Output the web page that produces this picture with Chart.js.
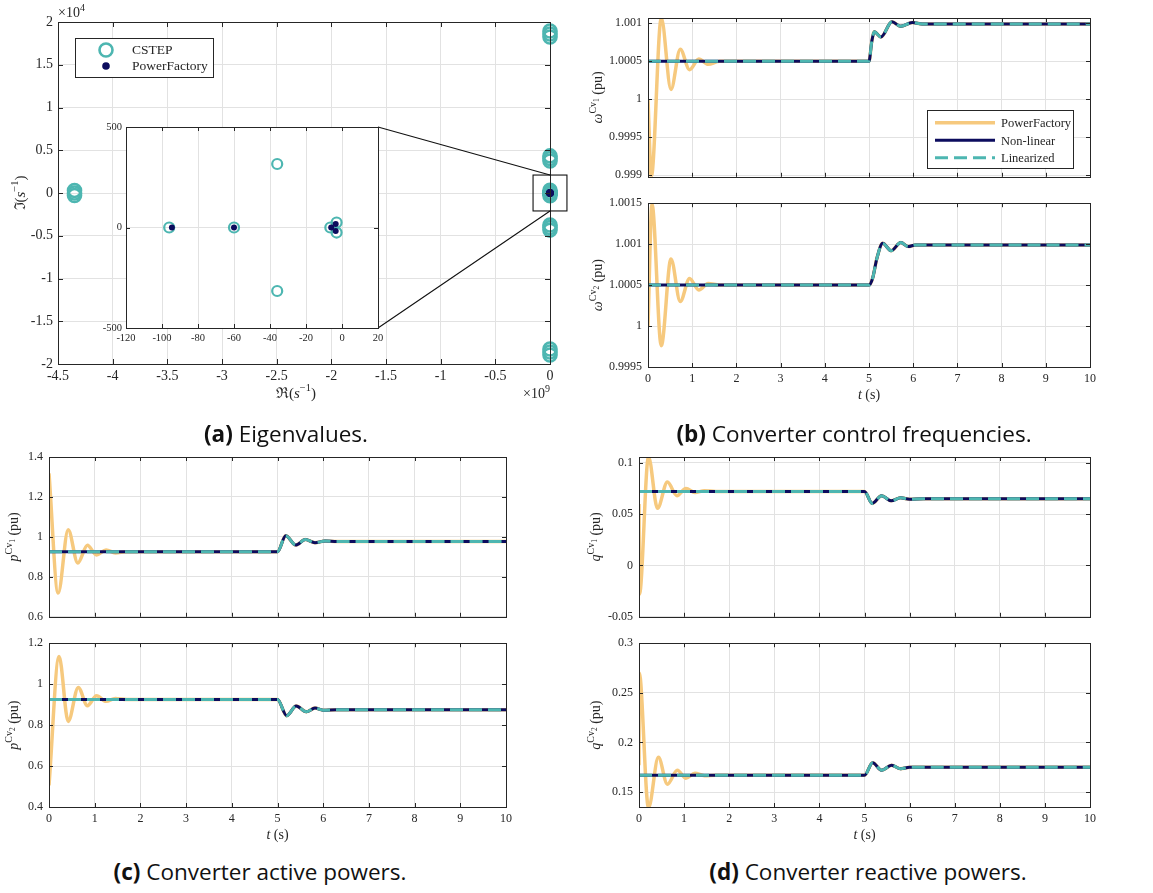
<!DOCTYPE html>
<html>
<head>
<meta charset="utf-8">
<script src="https://cdn.jsdelivr.net/npm/chart.js@4.4.1/dist/chart.umd.min.js"></script>
<style>
  body { margin: 0; background: #fff; }
  #fig { position: relative; width: 1153px; height: 893px; overflow: hidden; }
  canvas { position: absolute; }
  .cap { position: absolute; height: 30px; line-height: 30px; text-align: center; font-family: "Open Sans", sans-serif; font-size: 22.5px; color: #111; white-space: nowrap; }
  .cap b { font-weight: 700; }
</style>
</head>
<body>
<div id="fig">
  <canvas id="cA" width="580" height="420" style="left:0;top:0"></canvas>
  <canvas id="cIn" width="300" height="240" style="left:90px;top:115px"></canvas>
  <canvas id="cB1" width="573" height="190" style="left:580px;top:0"></canvas>
  <canvas id="cB2" width="573" height="230" style="left:580px;top:190px"></canvas>
  <canvas id="cC1" width="580" height="190" style="left:0;top:440px"></canvas>
  <canvas id="cC2" width="580" height="220" style="left:0;top:630px"></canvas>
  <canvas id="cD1" width="573" height="190" style="left:580px;top:440px"></canvas>
  <canvas id="cD2" width="573" height="220" style="left:580px;top:630px"></canvas>
  <div class="cap" style="left:136px;width:300px;top:419px"><b>(a)</b> Eigenvalues.</div>
  <div class="cap" style="left:654px;width:400px;top:419px"><b>(b)</b> Converter control frequencies.</div>
  <div class="cap" style="left:60px;width:400px;top:857px"><b>(c)</b> Converter active powers.</div>
  <div class="cap" style="left:668px;width:400px;top:857px"><b>(d)</b> Converter reactive powers.</div>
</div>
<script>
// ---- (a) eigenvalues (real part in s^-1, imaginary part in s^-1)
const cstepRe = [-4.349e9, -4.349e9, -4.349e9, 0, 0, 0, 0, 0, 0, 0, 0, 0, 0, 0, 0, -96, -60, -36, -36, -6.5, -3, -3];
const cstepIm = [300, 0, -300, 18950, 18600, 18250, 4340, 4040, 3740, -3740, -4040, -4340, -18250, -18600, -18950, 0, 0, 316, -316, 0, 25, -25];
const pfRe = [-94.5, -60, -6, -3.5, -3.5];
const pfIm = [0, 0, 0, 18, -18];
const aTicksX = [-4.5e9, -4e9, -3.5e9, -3e9, -2.5e9, -2e9, -1.5e9, -1e9, -0.5e9, 0];
const aTicksY = [-2e4, -1.5e4, -1e4, -0.5e4, 0, 0.5e4, 1e4, 1.5e4, 2e4];
const insetTicksX = [-120, -100, -80, -60, -40, -20, 0, 20];
const insetTicksY = [-500, 0, 500];

// ---- time series: PowerFactory start-up transient + common step response
const timeTicks = [0, 1, 2, 3, 4, 5, 6, 7, 8, 9, 10];

const b1PfT = [0, 0.075, 0.30, 0.52, 0.73, 0.94, 1.15, 1.36, 1.62];
const b1PfY = [1.0, 0.99898, 1.00107, 1.00013, 1.00066, 1.00039, 1.00053, 1.00046, 1.0005];
const b1T = [0, 5.0, 5.06, 5.12, 5.27, 5.52, 5.72, 5.98, 6.2, 10];
const b1Y = [1.0005, 1.0005, 1.00075, 1.00089, 1.00082, 1.00102, 1.00096, 1.00101, 1.00099, 1.00099];

const b2PfT = [0, 0.09, 0.30, 0.52, 0.73, 0.94, 1.15, 1.36, 1.62];
const b2PfY = [1.0, 1.00149, 0.99976, 1.00082, 1.0003, 1.00058, 1.00044, 1.00052, 1.0005];
const b2T = [0, 5.0, 5.08, 5.18, 5.31, 5.5, 5.72, 5.89, 6.05, 10];
const b2Y = [1.0005, 1.0005, 1.00058, 1.00083, 1.00101, 1.00092, 1.00102, 1.00097, 1.00099, 1.00099];

const c1PfT = [0, 0.20, 0.42, 0.63, 0.84, 1.04, 1.25, 1.45, 1.7];
const c1PfY = [1.318, 0.719, 1.036, 0.869, 0.958, 0.91, 0.935, 0.92, 0.926];
const c1T = [0, 5.0, 5.18, 5.40, 5.61, 5.82, 6.04, 6.3, 10];
const c1Y = [0.926, 0.926, 1.006, 0.959, 0.987, 0.971, 0.979, 0.977, 0.977];

const c2PfT = [0, 0.22, 0.42, 0.64, 0.84, 1.04, 1.25, 1.45, 1.7];
const c2PfY = [0.506, 1.135, 0.818, 0.984, 0.895, 0.943, 0.916, 0.93, 0.925];
const c2T = [0, 5.0, 5.20, 5.41, 5.63, 5.82, 6.0, 6.3, 10];
const c2Y = [0.925, 0.925, 0.846, 0.893, 0.865, 0.883, 0.873, 0.875, 0.875];

const d1PfT = [0, 0.01, 0.21, 0.41, 0.63, 0.84, 1.04, 1.24, 1.45, 1.7];
const d1PfY = [0.06, -0.028, 0.106, 0.0557, 0.0813, 0.068, 0.075, 0.071, 0.0728, 0.0722];
const d1T = [0, 5.0, 5.17, 5.38, 5.59, 5.80, 6.0, 6.3, 10];
const d1Y = [0.0722, 0.0722, 0.0605, 0.068, 0.063, 0.066, 0.0645, 0.0649, 0.0649];

const d2PfT = [0, 0.005, 0.21, 0.43, 0.63, 0.85, 1.04, 1.24, 1.45, 1.7];
const d2PfY = [0.177, 0.27, 0.1342, 0.185, 0.158, 0.172, 0.164, 0.169, 0.1665, 0.167];
const d2T = [0, 5.0, 5.18, 5.38, 5.6, 5.80, 6.0, 6.3, 10];
const d2Y = [0.167, 0.167, 0.1796, 0.172, 0.177, 0.1735, 0.175, 0.175, 0.175];

const SERIF = '"Liberation Serif", "DejaVu Serif", serif';
const AXIS = "#262626";
const GRID = "#e2e2e2";
const TEAL = "#4db6b1";
const NAVY = "#0c0c5e";
const GOLD = "#f6c97e";

function fontOf(p) {
  return (p.i ? "italic " : "") + p.s + "px " + (p.ff || SERIF);
}

// draws a run of text pieces (for superscripts etc), optionally rotated
function drawRich(ctx, parts, x, y, align, rotate) {
  ctx.save();
  ctx.translate(x, y);
  if (rotate) ctx.rotate(-Math.PI / 2);
  ctx.fillStyle = AXIS;
  ctx.textAlign = "left";
  ctx.textBaseline = "alphabetic";
  const widths = parts.map((p) => {
    ctx.font = fontOf(p);
    return ctx.measureText(p.t).width;
  });
  const total = widths.reduce((a, b) => a + b, 0);
  let cx = align === "left" ? 0 : align === "right" ? -total : -total / 2;
  parts.forEach((p, i) => {
    ctx.font = fontOf(p);
    ctx.fillText(p.t, cx, p.dy || 0);
    cx += widths[i];
  });
  ctx.restore();
}

function fmt(v) {
  return String(+v.toFixed(6));
}

// MATLAB-like box: frame, inward ticks on all sides, axis labels
function makeAxes(cfg) {
  return {
    id: "matlabAxes",
    beforeDraw(chart) {
      if (!cfg.fill) return;
      const a = chart.chartArea;
      chart.ctx.save();
      chart.ctx.fillStyle = "#fff";
      chart.ctx.fillRect(a.left, a.top, a.right - a.left, a.bottom - a.top);
      chart.ctx.restore();
    },
    afterDraw(chart) {
      const { ctx, chartArea: a, scales } = chart;
      const x = scales.x;
      const y = scales.y;
      const tl = cfg.tick || 4;
      ctx.save();
      ctx.strokeStyle = AXIS;
      ctx.lineWidth = 1;
      ctx.beginPath();
      x.ticks.forEach((t) => {
        const px = Math.round(x.getPixelForValue(t.value)) + 0.5;
        ctx.moveTo(px, a.bottom);
        ctx.lineTo(px, a.bottom - tl);
        ctx.moveTo(px, a.top);
        ctx.lineTo(px, a.top + tl);
      });
      y.ticks.forEach((t) => {
        const py = Math.round(y.getPixelForValue(t.value)) + 0.5;
        ctx.moveTo(a.left, py);
        ctx.lineTo(a.left + tl, py);
        ctx.moveTo(a.right, py);
        ctx.lineTo(a.right - tl, py);
      });
      ctx.stroke();
      ctx.strokeRect(Math.round(a.left) + 0.5, Math.round(a.top) + 0.5, Math.round(a.right - a.left), Math.round(a.bottom - a.top));
      if (cfg.ylabel) drawRich(ctx, cfg.ylabel, cfg.ylabelX, (a.top + a.bottom) / 2, "center", true);
      if (cfg.xlabel) drawRich(ctx, cfg.xlabel, cfg.xlabelX || (a.left + a.right) / 2, a.bottom + cfg.xlabelDy, "center", false);
      if (cfg.extra) cfg.extra(chart, ctx);
      ctx.restore();
    }
  };
}

function pts(xs, ys) {
  return xs.map((v, i) => ({ x: v, y: ys[i] }));
}

function yLabel(sym, idx) {
  return [
    { t: sym, s: 14, i: true },
    { t: "Cv", s: 10, dy: -6 },
    { t: String(idx), s: 7.5, dy: -3 },
    { t: " (pu)", s: 14 }
  ];
}

const tLabel = [{ t: "t", s: 14, i: true }, { t: " (s)", s: 14 }];

function timeChart(id, o) {
  const nl = pts(o.t, o.y);
  const pf = pts(o.pfT, o.pfY).concat(nl.filter((p) => p.x >= 2));
  const tickFont = { family: SERIF, size: 12 };
  return new Chart(document.getElementById(id), {
    type: "line",
    data: {
      datasets: [
        { label: "Linearized", data: nl, borderColor: TEAL, borderWidth: 3, borderDash: [13, 6], order: 0 },
        { label: "Non-linear", data: nl, borderColor: NAVY, borderWidth: 3, order: 1 },
        { label: "PowerFactory", data: pf, borderColor: GOLD, borderWidth: 3.5, order: 2 }
      ]
    },
    options: {
      responsive: false,
      animation: false,
      events: [],
      devicePixelRatio: 1,
      layout: { padding: { top: o.padTop, right: o.padRight, left: 0, bottom: 0 } },
      elements: {
        point: { radius: 0 },
        line: { cubicInterpolationMode: "monotone", borderCapStyle: "butt" }
      },
      plugins: { legend: { display: false }, tooltip: { enabled: false } },
      scales: {
        x: {
          type: "linear",
          min: 0,
          max: 10,
          afterBuildTicks: (s) => { s.ticks = timeTicks.map((v) => ({ value: v })); },
          afterFit: (s) => { s.height = o.xH; },
          grid: { color: GRID, drawTicks: false },
          border: { display: false },
          ticks: { display: o.showX, padding: 5, font: tickFont, color: AXIS, maxRotation: 0, autoSkip: false, callback: fmt }
        },
        y: {
          type: "linear",
          min: o.yMin,
          max: o.yMax,
          afterBuildTicks: (s) => { s.ticks = o.yTicks.map((v) => ({ value: v })); },
          afterFit: (s) => { s.width = o.yW; },
          grid: { color: GRID, drawTicks: false },
          border: { display: false },
          ticks: { padding: 6, font: tickFont, color: AXIS, autoSkip: false, callback: fmt }
        }
      }
    },
    plugins: [makeAxes({
      tick: 4,
      ylabel: o.ylabel,
      ylabelX: o.ylabelX,
      xlabel: o.showX ? tLabel : null,
      xlabelDy: 32,
      extra: o.extra
    })]
  });
}

// legend box of panel (b), top plot
function lineLegend(chart, ctx) {
  const a = chart.chartArea;
  const bx = a.right - 163;
  const by = a.bottom - 67;
  ctx.fillStyle = "#fff";
  ctx.fillRect(bx, by, 146, 58);
  ctx.strokeStyle = AXIS;
  ctx.lineWidth = 1;
  ctx.strokeRect(Math.round(bx) + 0.5, Math.round(by) + 0.5, 146, 58);
  const rows = [
    { name: "PowerFactory", color: GOLD, w: 3.5, dash: [] },
    { name: "Non-linear", color: NAVY, w: 3, dash: [] },
    { name: "Linearized", color: TEAL, w: 3, dash: [13, 6] }
  ];
  rows.forEach((r, i) => {
    const ry = by + 13 + i * 17.5;
    ctx.save();
    ctx.strokeStyle = r.color;
    ctx.lineWidth = r.w;
    ctx.setLineDash(r.dash);
    ctx.beginPath();
    ctx.moveTo(bx + 8, ry);
    ctx.lineTo(bx + 68, ry);
    ctx.stroke();
    ctx.restore();
    ctx.fillStyle = AXIS;
    ctx.font = "12.5px " + SERIF;
    ctx.textBaseline = "middle";
    ctx.fillText(r.name, bx + 74, ry + 1);
  });
}

// ---- (a) inset
const insetChart = new Chart(document.getElementById("cIn"), {
  type: "scatter",
  data: {
    datasets: [
      { label: "CSTEP", data: pts(cstepRe, cstepIm), pointRadius: 5, pointBorderWidth: 2.2, borderColor: TEAL, backgroundColor: "rgba(0,0,0,0)", order: 1 },
      { label: "PowerFactory", data: pts(pfRe, pfIm), pointRadius: 3, pointBorderWidth: 0, borderColor: NAVY, backgroundColor: NAVY, order: 0 }
    ]
  },
  options: {
    responsive: false,
    animation: false,
    events: [],
    devicePixelRatio: 1,
    layout: { padding: { top: 12, right: 12, left: 0, bottom: 0 } },
    plugins: { legend: { display: false }, tooltip: { enabled: false } },
    scales: {
      x: {
        type: "linear", min: -120, max: 20,
        afterBuildTicks: (s) => { s.ticks = insetTicksX.map((v) => ({ value: v })); },
        afterFit: (s) => { s.height = 27; },
        grid: { color: GRID, drawTicks: false },
        border: { display: false },
        ticks: { padding: 4, font: { family: SERIF, size: 10.5 }, color: AXIS, maxRotation: 0, autoSkip: false, callback: fmt }
      },
      y: {
        type: "linear", min: -500, max: 500,
        afterBuildTicks: (s) => { s.ticks = insetTicksY.map((v) => ({ value: v })); },
        afterFit: (s) => { s.width = 36; },
        grid: { color: GRID, drawTicks: false },
        border: { display: false },
        ticks: { padding: 4, font: { family: SERIF, size: 10.5 }, color: AXIS, autoSkip: false, callback: fmt }
      }
    }
  },
  plugins: [makeAxes({ tick: 4, fill: true })]
});

// ---- (a) main eigenvalue map
const INSET_LEFT = 90;
const INSET_TOP = 115;
const ZOOM_RE = 0.155e9;
const ZOOM_IM = 2100;

new Chart(document.getElementById("cA"), {
  type: "scatter",
  data: {
    datasets: [
      { label: "CSTEP", data: pts(cstepRe, cstepIm), pointRadius: 6.5, pointBorderWidth: 2.6, borderColor: TEAL, backgroundColor: "rgba(0,0,0,0)", order: 1, clip: false },
      { label: "PowerFactory", data: pts(pfRe, pfIm), pointRadius: 3.8, pointBorderWidth: 0, borderColor: NAVY, backgroundColor: NAVY, order: 0, clip: false }
    ]
  },
  options: {
    responsive: false,
    animation: false,
    events: [],
    devicePixelRatio: 1,
    layout: { padding: { top: 22, right: 30, left: 0, bottom: 0 } },
    plugins: { legend: { display: false }, tooltip: { enabled: false } },
    scales: {
      x: {
        type: "linear", min: -4.5e9, max: 0,
        afterBuildTicks: (s) => { s.ticks = aTicksX.map((v) => ({ value: v })); },
        afterFit: (s) => { s.height = 56; },
        grid: { color: GRID, drawTicks: false },
        border: { display: false },
        ticks: { padding: 4, font: { family: SERIF, size: 14 }, color: AXIS, maxRotation: 0, autoSkip: false, callback: (v) => fmt(v / 1e9) }
      },
      y: {
        type: "linear", min: -2e4, max: 2e4,
        afterBuildTicks: (s) => { s.ticks = aTicksY.map((v) => ({ value: v })); },
        afterFit: (s) => { s.width = 58; },
        grid: { color: GRID, drawTicks: false },
        border: { display: false },
        ticks: { padding: 5, font: { family: SERIF, size: 14 }, color: AXIS, autoSkip: false, callback: (v) => fmt(v / 1e4) }
      }
    }
  },
  plugins: [makeAxes({
    tick: 5,
    ylabel: [{ t: "ℑ(", s: 15 }, { t: "s", s: 15, i: true }, { t: "−1", s: 10.5, dy: -7 }, { t: ")", s: 15 }],
    ylabelX: 25,
    xlabel: [{ t: "ℜ(", s: 15 }, { t: "s", s: 15, i: true }, { t: "−1", s: 10.5, dy: -7 }, { t: ")", s: 15 }],
    xlabelX: 296,
    xlabelDy: 34,
    extra: (chart, ctx) => {
      const a = chart.chartArea;
      const x = chart.scales.x;
      const y = chart.scales.y;
      drawRich(ctx, [{ t: "×10", s: 14 }, { t: "4", s: 10, dy: -6 }], a.left, a.top - 5, "left", false);
      drawRich(ctx, [{ t: "×10", s: 14 }, { t: "9", s: 10, dy: -6 }], a.right, a.bottom + 34, "right", false);
      // zoom box around the origin and connectors to the inset
      const zx0 = x.getPixelForValue(-ZOOM_RE);
      const zx1 = x.getPixelForValue(ZOOM_RE);
      const zy0 = y.getPixelForValue(ZOOM_IM);
      const zy1 = y.getPixelForValue(-ZOOM_IM);
      const ox = x.getPixelForValue(0);
      const ia = insetChart.chartArea;
      ctx.strokeStyle = "#111";
      ctx.lineWidth = 1.1;
      ctx.strokeRect(zx0, zy0, zx1 - zx0, zy1 - zy0);
      ctx.beginPath();
      ctx.moveTo(INSET_LEFT + ia.right, INSET_TOP + ia.top);
      ctx.lineTo(ox, zy0);
      ctx.moveTo(INSET_LEFT + ia.right, INSET_TOP + ia.bottom);
      ctx.lineTo(ox, zy1);
      ctx.stroke();
      // legend
      const lx = a.left + 17;
      const ly = a.top + 16;
      ctx.fillStyle = "#fff";
      ctx.fillRect(lx, ly, 138, 39);
      ctx.strokeStyle = AXIS;
      ctx.lineWidth = 1;
      ctx.strokeRect(Math.round(lx) + 0.5, Math.round(ly) + 0.5, 138, 39);
      ctx.strokeStyle = TEAL;
      ctx.lineWidth = 2.6;
      ctx.beginPath();
      ctx.arc(lx + 31, ly + 12, 6.5, 0, Math.PI * 2);
      ctx.stroke();
      ctx.fillStyle = NAVY;
      ctx.beginPath();
      ctx.arc(lx + 31, ly + 28, 3.8, 0, Math.PI * 2);
      ctx.fill();
      ctx.fillStyle = AXIS;
      ctx.font = "13.5px " + SERIF;
      ctx.textBaseline = "middle";
      ctx.fillText("CSTEP", lx + 57, ly + 12);
      ctx.fillText("PowerFactory", lx + 57, ly + 28);
    }
  })]
});

// ---- (b) frequencies
timeChart("cB1", {
  t: b1T, y: b1Y, pfT: b1PfT, pfY: b1PfY,
  yMin: 0.99898, yMax: 1.00107, yTicks: [0.999, 0.9995, 1, 1.0005, 1.001],
  padTop: 18, padRight: 63, yW: 68, xH: 8, showX: false,
  ylabel: yLabel("ω", 1), ylabelX: 22, extra: lineLegend
});
timeChart("cB2", {
  t: b2T, y: b2Y, pfT: b2PfT, pfY: b2PfY,
  yMin: 0.9995, yMax: 1.0015, yTicks: [0.9995, 1, 1.0005, 1.001, 1.0015],
  padTop: 13, padRight: 63, yW: 68, xH: 53, showX: true,
  ylabel: yLabel("ω", 2), ylabelX: 22
});

// ---- (c) active powers
timeChart("cC1", {
  t: c1T, y: c1Y, pfT: c1PfT, pfY: c1PfY,
  yMin: 0.6, yMax: 1.4, yTicks: [0.6, 0.8, 1, 1.2, 1.4],
  padTop: 17, padRight: 74, yW: 49, xH: 8, showX: false,
  ylabel: yLabel("p", 1), ylabelX: 18
});
timeChart("cC2", {
  t: c2T, y: c2Y, pfT: c2PfT, pfY: c2PfY,
  yMin: 0.4, yMax: 1.2, yTicks: [0.4, 0.6, 0.8, 1, 1.2],
  padTop: 13, padRight: 74, yW: 49, xH: 43, showX: true,
  ylabel: yLabel("p", 2), ylabelX: 18
});

// ---- (d) reactive powers
timeChart("cD1", {
  t: d1T, y: d1Y, pfT: d1PfT, pfY: d1PfY,
  yMin: -0.05, yMax: 0.1057, yTicks: [-0.05, 0, 0.05, 0.1],
  padTop: 17, padRight: 63, yW: 59, xH: 8, showX: false,
  ylabel: yLabel("q", 1), ylabelX: 20
});
timeChart("cD2", {
  t: d2T, y: d2Y, pfT: d2PfT, pfY: d2PfY,
  yMin: 0.135, yMax: 0.3, yTicks: [0.15, 0.2, 0.25, 0.3],
  padTop: 13, padRight: 63, yW: 59, xH: 43, showX: true,
  ylabel: yLabel("q", 2), ylabelX: 20
});
</script>
</body>
</html>
